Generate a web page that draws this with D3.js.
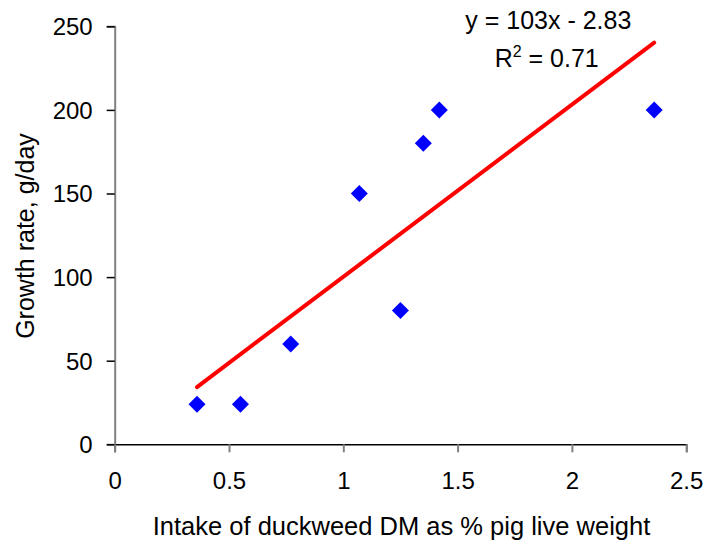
<!DOCTYPE html>
<html>
<head>
<meta charset="utf-8">
<script src="https://cdn.jsdelivr.net/npm/d3@7"></script>
<style>
  body { margin: 0; background: #fff; }
  svg { display: block; font-family: "Liberation Sans", Arial, sans-serif; }
</style>
</head>
<body>
<svg id="chart" width="707" height="543"></svg>
<script>
// Duckweed intake vs pig growth rate
const intake = [0.36, 0.55, 0.77, 1.07, 1.25, 1.35, 1.42, 2.36];
const growth = [24, 24, 60, 150, 80, 180, 200, 200];
const xTicks = [0, 0.5, 1, 1.5, 2, 2.5];
const yTicks = [0, 50, 100, 150, 200, 250];
const slope = 103, intercept = -2.83, r2 = 0.71;

const svg = d3.select("#chart");
const x = d3.scaleLinear().domain([0, 2.5]).range([114.7, 686.2]);
const y = d3.scaleLinear().domain([0, 250]).range([444.3, 26.3]);

// Y axis
const yAxis = svg.append("g").attr("transform", `translate(${x(0)},0)`)
  .call(d3.axisLeft(y).tickValues(yTicks).tickSize(8).tickPadding(14).tickFormat(d3.format("d")));
yAxis.select(".domain").attr("stroke", "#808080").attr("stroke-width", 2);
yAxis.selectAll(".tick line").attr("stroke", "#000").attr("stroke-width", 1.5);
yAxis.selectAll("text").attr("font-size", 24).attr("fill", "#000").attr("dy", "0.35em");

// X axis
const xAxis = svg.append("g").attr("transform", `translate(0,${y(0)})`)
  .call(d3.axisBottom(x).tickValues(xTicks).tickSize(8).tickPadding(20).tickFormat(d => String(d)));
xAxis.select(".domain").attr("stroke", "#000").attr("stroke-width", 1.5);
xAxis.selectAll(".tick line").attr("stroke", "#808080").attr("stroke-width", 2);
xAxis.selectAll("text").attr("font-size", 24).attr("fill", "#000");

// Axis titles
svg.append("text").attr("x", 401.5).attr("y", 535).attr("text-anchor", "middle")
  .attr("font-size", 25.5).text("Intake of duckweed DM as % pig live weight");
svg.append("text").attr("transform", "translate(34,236) rotate(-90)").attr("text-anchor", "middle")
  .attr("font-size", 25).text("Growth rate, g/day");

// Trend line
const xMin = d3.min(intake), xMax = d3.max(intake);
svg.append("line")
  .attr("x1", x(xMin)).attr("y1", y(slope * xMin + intercept))
  .attr("x2", x(xMax)).attr("y2", y(slope * xMax + intercept))
  .attr("stroke", "#ff0000").attr("stroke-width", 4).attr("stroke-linecap", "round");

// Points as diamonds
const diamond = d3.symbol().type(d3.symbolSquare).size(144);
svg.append("g").selectAll("path").data(intake).join("path")
  .attr("d", diamond)
  .attr("transform", (d, i) => `translate(${x(d)},${y(growth[i])}) rotate(45)`)
  .attr("fill", "#0000ff");

// Regression equation
svg.append("text").attr("x", 548.3).attr("y", 28.5).attr("text-anchor", "middle")
  .attr("font-size", 25).text(`y = ${slope}x - ${(-intercept).toFixed(2)}`);
const rt = svg.append("text").attr("x", 546.7).attr("y", 66.7).attr("text-anchor", "middle").attr("font-size", 25);
rt.append("tspan").text("R");
rt.append("tspan").attr("font-size", 16).attr("dy", -10).text("2");
rt.append("tspan").attr("dy", 10).text(` = ${r2.toFixed(2)}`);
</script>
</body>
</html>
